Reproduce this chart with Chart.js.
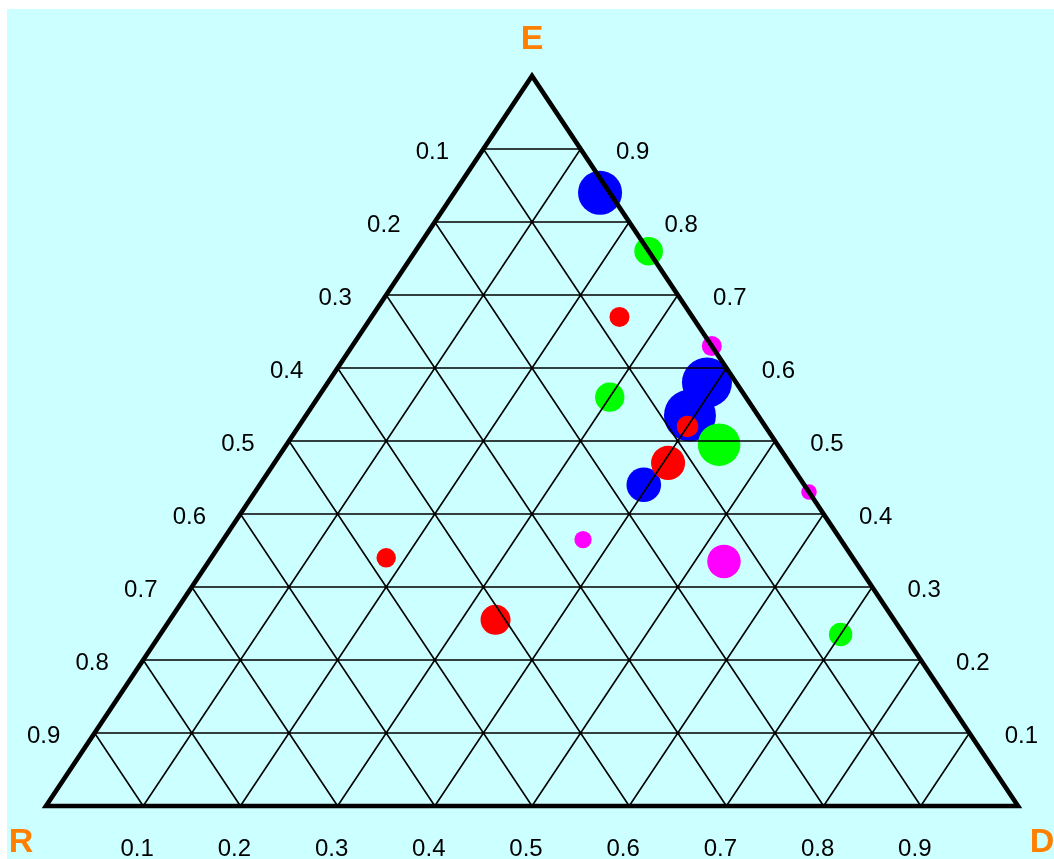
<!DOCTYPE html>
<html>
<head>
<meta charset="utf-8">
<script src="https://cdn.jsdelivr.net/npm/chart.js@4/dist/chart.umd.min.js"></script>
<style>
  html, body { margin: 0; padding: 0; background: #ffffff; }
  #wrap { width: 1054px; height: 859px; position: relative; }
</style>
</head>
<body>
<div id="wrap"><canvas id="tern" width="1054" height="859"></canvas></div>
<script>
// Ternary composition of each sample: [R, D, E] fractions (sum to 1)
const blueRDE = [[0.01, 0.15, 0.84], [0.03, 0.39, 0.58], [0.07, 0.395, 0.535], [0.165, 0.395, 0.44]];
const blueWeight = [19.4, 25, 27, 12];

const greenRDE = [[0.0, 0.24, 0.76], [0.14, 0.30, 0.56], [0.06, 0.445, 0.495], [0.065, 0.70, 0.235]];
const greenWeight = [8.2, 8.6, 18.1, 5.5];

const redRDE = [[0.075, 0.255, 0.67], [0.08, 0.40, 0.52], [0.125, 0.405, 0.47], [0.48, 0.18, 0.34], [0.41, 0.335, 0.255]];
const redWeight = [4, 4.6, 11.6, 3.8, 9];

const magentaRDE = [[0.0, 0.37, 0.63], [0.0, 0.57, 0.43], [0.265, 0.37, 0.365], [0.135, 0.53, 0.335]];
const magentaWeight = [4, 2.4, 3, 11.2];

// Axis ticks and corner names
const gridTicks = [0.1, 0.2, 0.3, 0.4, 0.5, 0.6, 0.7, 0.8, 0.9];
const tickLabels = ['0.1', '0.2', '0.3', '0.4', '0.5', '0.6', '0.7', '0.8', '0.9'];
const cornerNames = { R: 'R', D: 'D', E: 'E' };

// Cartesian position inside the triangle: R at left, D at right, E at apex
function toXY(rde) {
  return { x: rde[1] + rde[2] / 2, y: rde[2] };
}
function bubbles(rdeList, weights) {
  return rdeList.map((p, i) => {
    const xy = toXY(p);
    return { x: xy.x, y: xy.y, r: 5 * Math.sqrt(weights[i]) };
  });
}

const trianglePlugin = {
  id: 'triangle',
  beforeDraw(chart) {
    const c = chart.ctx;
    c.save();
    c.fillStyle = '#ccffff';
    c.fillRect(7, 9, chart.width - 7, chart.height - 9);
    c.restore();
  },
  afterDatasetsDraw(chart) {
    const c = chart.ctx;
    const xs = chart.scales.x, ys = chart.scales.y;
    const px = (rde) => { const p = toXY(rde); return [xs.getPixelForValue(p.x), ys.getPixelForValue(p.y)]; };
    const seg = (a, b) => { const p = px(a), q = px(b); c.moveTo(p[0], p[1]); c.lineTo(q[0], q[1]); };

    c.save();
    // inner grid
    c.strokeStyle = '#000000';
    c.lineWidth = 1.6;
    c.beginPath();
    gridTicks.forEach(k => {
      seg([1 - k, 0, k], [0, 1 - k, k]);      // constant E
      seg([1 - k, k, 0], [0, k, 1 - k]);      // constant D
      seg([k, 1 - k, 0], [k, 0, 1 - k]);      // constant R
    });
    c.stroke();

    // outer triangle
    c.lineWidth = 4.6;
    c.lineJoin = 'miter';
    c.beginPath();
    const a = px([1, 0, 0]), b = px([0, 1, 0]), e = px([0, 0, 1]);
    c.moveTo(a[0], a[1]); c.lineTo(b[0], b[1]); c.lineTo(e[0], e[1]); c.closePath();
    c.stroke();

    // tick labels
    c.fillStyle = '#000000';
    c.font = '24px "Liberation Sans", Arial, sans-serif';
    c.textAlign = 'center';
    c.textBaseline = 'middle';
    gridTicks.forEach((k, i) => {
      // R along the left edge (E = 1 - R)
      const l = px([k, 0, 1 - k]);
      c.fillText(tickLabels[i], l[0] - 51, l[1] + 3);
      // E along the right edge
      const r = px([0, 1 - k, k]);
      c.fillText(tickLabels[i], r[0] + 52, r[1] + 3);
      // D along the base
      const d = px([1 - k, k, 0]);
      c.fillText(tickLabels[i], d[0] - 6, d[1] + 43);
    });

    // corner names
    c.fillStyle = '#ff8000';
    c.font = 'bold 34px "Liberation Sans", Arial, sans-serif';
    c.fillText(cornerNames.E, e[0], e[1] - 36);
    c.fillText(cornerNames.R, a[0] - 25, a[1] + 37);
    c.fillText(cornerNames.D, b[0] + 24, b[1] + 37);
    c.restore();
  }
};

new Chart(document.getElementById('tern'), {
  type: 'bubble',
  data: {
    datasets: [
      { label: 'blue', data: bubbles(blueRDE, blueWeight), backgroundColor: '#0000ff', order: 4 },
      { label: 'green', data: bubbles(greenRDE, greenWeight), backgroundColor: '#00ff00', order: 3 },
      { label: 'red', data: bubbles(redRDE, redWeight), backgroundColor: '#ff0000', order: 2 },
      { label: 'magenta', data: bubbles(magentaRDE, magentaWeight), backgroundColor: '#ff00ff', order: 1 }
    ].map(ds => Object.assign(ds, { borderWidth: 0, clip: false, hoverRadius: 0 }))
  },
  options: {
    responsive: false,
    animation: false,
    events: [],
    layout: { padding: { left: 46, right: 36, top: 76, bottom: 53 } },
    scales: {
      x: { type: 'linear', min: 0, max: 1, display: false },
      y: { type: 'linear', min: 0, max: 1, display: false }
    },
    plugins: { legend: { display: false }, tooltip: { enabled: false } }
  },
  plugins: [trianglePlugin]
});
</script>
</body>
</html>
